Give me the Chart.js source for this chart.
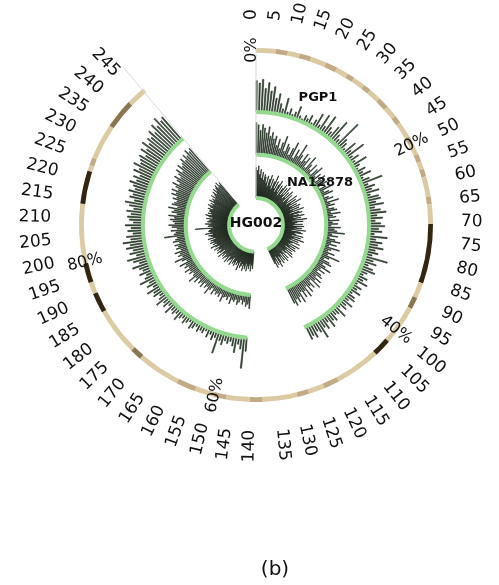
<!DOCTYPE html>
<html>
<head>
<meta charset="utf-8">
<script src="https://cdn.jsdelivr.net/npm/chart.js@4.4.1/dist/chart.umd.min.js"></script>
<style>
  html, body { margin: 0; padding: 0; background: #fff; }
  #wrap { position: relative; width: 499px; height: 585px; }
  #caption { position: absolute; left: 225px; width: 100px; top: 558px; text-align: center;
             font: 20px "DejaVu Sans", sans-serif; line-height: 20px; color: #111; }
</style>
</head>
<body>
<div id="wrap">
  <canvas id="chart" width="499" height="585"></canvas>
  <div id="caption">(b)</div>
</div>
<script>
// angular units: the outer tick labels run 0..245, ring end = 100%
const DEG_PER_UNIT = 1.29;
const BAR_DEG = 0.5;
const RING_END = 248.4;
const LEFT_START = 143; // first unit after the empty gap at the bottom

const unitTicks = [0, 5, 10, 15, 20, 25, 30, 35, 40, 45, 50, 55, 60, 65, 70, 75, 80, 85, 90, 95,
  100, 105, 110, 115, 120, 125, 130, 135, 140, 145, 150, 155, 160, 165, 170, 175, 180, 185, 190, 195,
  200, 205, 210, 215, 220, 225, 230, 235, 240, 245];
const pctTicks = [0, 20, 40, 60, 80];

// outer ring: segment start (units) and shade
const ringStarts = [0, 5, 8.1, 11.1, 14.1, 18.1, 21.2, 24.2, 26.2, 29.2,
  31.2, 34.3, 37.3, 40.3, 42.3, 46.4, 48.4, 51.4, 53.4, 55.4,
  57.4, 62.5, 64.5, 69.5, 84.7, 88.7, 91.7, 101.8, 106.3, 117.9,
  121.9, 126, 129, 138, 141.1, 147.1, 150.2, 155.2, 160.2, 171.3,
  174.3, 186.4, 191.5, 194.5, 199.5, 214.7, 223.2, 224.7, 226.7, 235.8, 243.4];
const ringShade = ['L', 'M', 'L', 'M', 'L', 'M', 'L', 'M', 'L', 'M',
  'L', 'M', 'L', 'M', 'L', 'M', 'L', 'M', 'L', 'M',
  'L', 'M', 'L', 'D', 'L', 'B', 'L', 'D', 'L', 'M',
  'L', 'M', 'L', 'M', 'L', 'M', 'L', 'M', 'L', 'B',
  'L', 'D', 'L', 'D', 'L', 'D', 'L', 'M', 'L', 'B', 'L'];
const shadeColors = { L: '#dccaa3', M: '#c2ab84', B: '#8b7651', D: '#33250f' };

// bar heights, % of track height; "Right" = units 0..119, "Left" = units 143..247
const pgp1Right = [92, 85, 96, 70, 88, 64, 78, 45, 60, 32,
  18, 52, 12, 25, 10, 20, 40, 14, 8, 22,
  15, 30, 10, 24, 48, 16, 55, 22, 62, 30,
  20, 44, 70, 28, 18, 88, 34, 25, 12, 45,
  22, 62, 16, 32, 14, 48, 20, 10, 30, 18,
  40, 12, 28, 65, 18, 36, 24, 44, 15, 38,
  42, 26, 48, 20, 36, 52, 24, 40, 18, 34,
  46, 28, 38, 16, 55, 22, 42, 30, 48, 26,
  36, 20, 69, 28, 40, 18, 35, 45, 24, 15,
  32, 22, 40, 12, 30, 20, 36, 14, 28, 34,
  18, 38, 22, 30, 12, 42, 24, 20, 35, 28,
  45, 22, 40, 30, 59, 36, 28, 44, 34, 42];
const pgp1Left = [40, 91, 35, 22, 48, 30, 18, 26, 20, 34,
  24, 65, 20, 30, 16, 28, 12, 22, 18, 26,
  14, 24, 30, 12, 20, 28, 16, 22, 35, 18,
  26, 20, 38, 16, 30, 22, 42, 26, 18, 34,
  28, 45, 20, 36, 24, 50, 30, 22, 40, 26,
  34, 52, 28, 44, 60, 30, 48, 36, 55, 42,
  62, 38, 50, 30, 45, 35, 52, 28, 40, 46,
  36, 50, 30, 44, 58, 32, 48, 40, 55, 38,
  46, 60, 42, 55, 38, 62, 48, 70, 52, 58,
  66, 50, 72, 58, 80, 62, 75, 68, 85, 70,
  92, 78, 100, 82, 88];

const na12878Right = [95, 88, 72, 90, 80, 66, 85, 58, 70, 52,
  62, 35, 55, 28, 48, 70, 25, 50, 42, 20,
  44, 65, 18, 48, 30, 72, 40, 22, 52, 30,
  46, 15, 58, 34, 20, 44, 12, 36, 50, 18,
  34, 10, 42, 26, 14, 38, 8, 28, 45, 16,
  30, 40, 10, 22, 35, 14, 48, 20, 32, 12,
  28, 36, 16, 44, 20, 30, 10, 38, 18, 34,
  14, 42, 24, 32, 55, 18, 36, 12, 30, 46,
  20, 38, 16, 50, 26, 18, 40, 22, 60, 30,
  16, 36, 45, 20, 32, 52, 22, 40, 18, 35,
  42, 24, 48, 30, 55, 20, 44, 32, 50, 26,
  58, 34, 52, 30, 62, 40, 55, 42, 60, 50];
const na12878Left = [40, 28, 35, 22, 30, 18, 26, 34, 20, 28,
  24, 38, 18, 30, 22, 26, 42, 20, 32, 24,
  30, 22, 36, 18, 28, 45, 24, 32, 20, 38,
  26, 34, 22, 40, 28, 50, 30, 24, 36, 28,
  44, 26, 38, 30, 48, 22, 35, 55, 28, 40,
  32, 46, 26, 38, 30, 40, 24, 42, 34, 28,
  65, 36, 30, 44, 26, 40, 50, 32, 38, 46,
  34, 52, 28, 44, 38, 56, 30, 48, 42, 36,
  50, 40, 58, 46, 62, 44, 55, 68, 48, 60,
  72, 55, 66, 78, 60, 82, 70, 76, 88, 74,
  90, 80, 96, 85, 92];

const hg002Right = [90, 82, 95, 70, 85, 60, 78, 55, 72, 65,
  48, 70, 38, 62, 75, 42, 66, 35, 60, 80,
  40, 64, 32, 58, 72, 36, 60, 28, 55, 68,
  34, 62, 40, 70, 30, 56, 38, 66, 25, 58,
  42, 35, 68, 28, 60, 40, 74, 32, 56, 38,
  64, 30, 58, 36, 70, 26, 54, 62, 34, 50,
  66, 32, 55, 38, 72, 28, 60, 42, 35, 58,
  30, 62, 40, 56, 34, 68, 26, 54, 60, 36,
  42, 64, 30, 58, 38, 70, 32, 55, 28, 62,
  40, 34, 66, 30, 56, 38, 60, 26, 52, 35,
  58, 32, 64, 40, 28, 56, 36, 62, 30, 54,
  38, 60, 34, 52, 66, 30, 56, 40, 62, 48];
const hg002Left = [50, 40, 58, 36, 52, 44, 60, 38, 55, 46,
  62, 42, 50, 56, 38, 66, 45, 52, 40, 58,
  48, 54, 36, 62, 44, 50, 58, 40, 64, 46,
  52, 60, 42, 56, 48, 66, 38, 54, 62, 45,
  58, 50, 64, 44, 56, 70, 48, 60, 52, 66,
  55, 62, 46, 68, 52, 58, 64, 50, 72, 56,
  62, 60, 54, 100, 48, 62, 58, 70, 52, 64,
  60, 56, 68, 50, 62, 72, 54, 66, 58, 64,
  62, 70, 56, 66, 74, 60, 68, 58, 76, 64,
  70, 62, 78, 66, 72, 80, 68, 84, 74, 82,
  88, 76, 92, 80, 86];

// radial scale units: 100 = outer edge of the ring
const RING_OUTER = 100;
const RING_INNER = 97.3;
const TRACK_SPAN = 19.2;
const BAR_FILL = 'rgba(45,85,45,0.9)';
const BAR_EDGE = '#0f170f';
const NONE = 'rgba(0,0,0,0)';
const BASE_GREEN = '#93d98e';

function trackDataset(label, right, left, base, order) {
  const data = [], angle = [], fill = [], edge = [];
  const pushBar = (h) => {
    data.push(base + h / 100 * TRACK_SPAN); angle.push(BAR_DEG); fill.push(BAR_FILL); edge.push(0.6);
    data.push(base); angle.push(DEG_PER_UNIT - BAR_DEG); fill.push(NONE); edge.push(0);
  };
  right.forEach(pushBar);
  const gapAt = data.length;
  data.push(base); angle.push((LEFT_START - right.length) * DEG_PER_UNIT); fill.push(NONE); edge.push(0);
  left.forEach(pushBar);
  return {
    label: label, data: data, angle: angle,
    backgroundColor: fill, borderColor: BAR_EDGE, borderWidth: edge,
    maskTo: base, lineColor: BASE_GREEN, gapAt: gapAt, order: order
  };
}

const ringLengths = ringStarts.map((s, i) => (i < ringStarts.length - 1 ? ringStarts[i + 1] : RING_END) - s);
const ringDataset = {
  label: 'ring',
  data: ringStarts.map(() => RING_OUTER),
  angle: ringLengths.map((l) => l * DEG_PER_UNIT),
  backgroundColor: ringShade.map((s) => shadeColors[s]),
  borderWidth: 0,
  maskTo: RING_INNER,
  order: 4
};

// white disc under each track + its green base arc
const trackMask = {
  id: 'trackMask',
  afterDatasetDraw(chart, args) {
    const ds = chart.data.datasets[args.index];
    const scale = chart.scales.r;
    const ctx = chart.ctx;
    const cx = scale.xCenter, cy = scale.yCenter;
    const inner = scale.getDistanceFromCenterForValue(ds.maskTo);
    ctx.save();
    ctx.fillStyle = '#ffffff';
    ctx.beginPath();
    ctx.arc(cx, cy, inner, 0, Math.PI * 2);
    ctx.fill();
    if (ds.lineColor) {
      const arcs = args.meta.data;
      const g = ds.gapAt;
      ctx.strokeStyle = ds.lineColor;
      ctx.lineWidth = 4;
      [[0, g - 1], [g + 1, arcs.length - 1]].forEach(([a, b]) => {
        ctx.beginPath();
        ctx.arc(cx, cy, inner, arcs[a].startAngle, arcs[b].endAngle);
        ctx.stroke();
      });
    }
    ctx.restore();
  }
};

function radialText(ctx, cx, cy, r, deg, text, centered) {
  const t = deg * Math.PI / 180;
  const onLeft = deg > 180;
  ctx.save();
  ctx.translate(cx + r * Math.sin(t), cy - r * Math.cos(t));
  ctx.rotate((onLeft ? deg - 270 : deg - 90) * Math.PI / 180);
  ctx.textAlign = centered ? 'center' : (onLeft ? 'right' : 'left');
  ctx.fillText(text, 0, 0);
  ctx.restore();
}

const circleLabels = {
  id: 'circleLabels',
  afterDatasetsDraw(chart) {
    const scale = chart.scales.r;
    const ctx = chart.ctx;
    const cx = scale.xCenter, cy = scale.yCenter, R = scale.drawingArea;
    const pgp1 = chart.getDatasetMeta(1).data;
    // faint lines at both ends of the tracks
    ctx.save();
    ctx.strokeStyle = '#dadada';
    ctx.lineWidth = 1;
    [[pgp1[0].startAngle, R], [pgp1[pgp1.length - 1].endAngle, R + 30]].forEach(([a, len]) => {
      ctx.beginPath();
      ctx.moveTo(cx + 27 * Math.cos(a), cy + 27 * Math.sin(a));
      ctx.lineTo(cx + len * Math.cos(a), cy + len * Math.sin(a));
      ctx.stroke();
    });
    ctx.restore();

    ctx.save();
    ctx.fillStyle = '#111';
    ctx.textBaseline = 'alphabetic';
    ctx.font = '17px "DejaVu Sans"';
    unitTicks.forEach((u) => radialText(ctx, cx, cy, R + 28, u * DEG_PER_UNIT, String(u), false));
    ctx.font = '16px "DejaVu Sans"';
    pctTicks.forEach((p) => radialText(ctx, cx, cy, R - 2, p / 100 * RING_END * DEG_PER_UNIT, p + '%', true));

    ctx.font = 'bold 13px "DejaVu Sans"';
    ctx.textAlign = 'center';
    ctx.textBaseline = 'middle';
    ctx.fillText('PGP1', cx + 62, cy - 127);
    ctx.fillText('NA12878', cx + 64, cy - 42);
    ctx.font = 'bold 14px "DejaVu Sans"';
    ctx.fillText('HG002', cx, cy - 2);
    ctx.restore();
  }
};

new Chart(document.getElementById('chart'), {
  type: 'polarArea',
  data: {
    datasets: [
      ringDataset,
      trackDataset('PGP1', pgp1Right, pgp1Left, 63.9, 3),
      trackDataset('NA12878', na12878Right, na12878Left, 39.7, 2),
      trackDataset('HG002', hg002Right, hg002Left, 15.2, 1)
    ]
  },
  options: {
    responsive: false,
    animation: false,
    layout: { padding: { left: 79, right: 65, top: 48, bottom: 182 } },
    plugins: { legend: { display: false }, tooltip: { enabled: false } },
    scales: {
      r: {
        min: 0, max: 100, display: false, startAngle: 0,
        ticks: { display: false }, grid: { display: false },
        angleLines: { display: false }, pointLabels: { display: false }
      }
    }
  },
  plugins: [trackMask, circleLabels]
});
</script>
</body>
</html>
